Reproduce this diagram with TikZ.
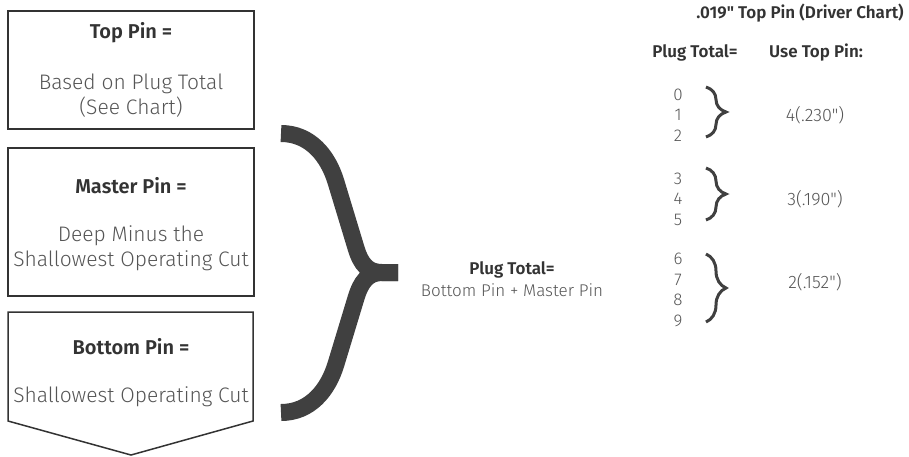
\documentclass[tikz,border=0pt]{standalone}
\usepackage{fontspec}
\setmainfont{Fira Sans}[UprightFont=* Light,BoldFont=* SemiBold,Ligatures=TeXOff]
\usetikzlibrary{calc,positioning,decorations.pathreplacing}
\definecolor{headgray}{HTML}{333333}
\definecolor{bodygray}{HTML}{555555}
\definecolor{bracegray}{HTML}{404040}
\tikzset{
  pinbox/.style={
    draw=headgray,
    line width=1.5pt,
    minimum width=246pt,
    inner sep=0pt
  },
  pinhead/.style={
    font=\fontsize{20}{24}\selectfont\bfseries,
    text=headgray,
    inner sep=0pt
  },
  pinbody/.style={
    font=\fontsize{21}{25}\selectfont,
    text=bodygray,
    align=center,
    inner sep=0pt
  },
  charthead/.style={
    font=\fontsize{17}{20}\selectfont\bfseries,
    text=headgray,
    inner sep=0pt
  },
  chartnum/.style={
    font=\fontsize{17}{20.5}\selectfont,
    text=bodygray,
    align=center,
    inner sep=0pt
  },
  smallbrace/.style={
    decorate,
    decoration={brace,amplitude=20pt,aspect=0.5},
    line width=3pt,
    bracegray
  },
  bigbrace/.style={
    line width=17pt,
    bracegray
  }
}

\begin{document}
\begin{tikzpicture}[x=1pt,y=-1pt]
\useasboundingbox (0,0) rectangle (909,456);
% left boxes
\node[pinbox,minimum height=118pt] (topbox) at (131,70) {};
\node[pinbox,minimum height=148pt] (masterbox) at (131,222) {};
\coordinate (bl) at (8,312);
\coordinate (br) at (253,312);
\coordinate (tip) at (131,455);
\draw[draw=headgray,line width=1.5pt,line join=miter] (bl) -- (br) -- (253,421) -- (tip) -- (8,421) -- cycle;

\node[pinhead] (tophead) at (131,33) {Top Pin =};
\node[pinbody] (topbody) at (131,96) {Based on Plug Total\\(See Chart)};
\node[pinhead] (masterhead) at (131,186) {Master Pin =};
\node[pinbody] (masterbody) at (131,248) {Deep Minus the\\Shallowest Operating Cut};
\node[pinhead] (bottomhead) at (131,347) {Bottom Pin =};
\node[pinbody] (bottombody) at (131,397) {Shallowest Operating Cut};

% big brace
\draw[bigbrace] (281,133.5) .. controls (310,133.5) and (328,155.6) .. (336,182)
  -- (356,248) .. controls (361,264.5) and (368,272.5) .. (382,272.5) -- (398,272.5);
\draw[bigbrace] (281,412.5) .. controls (310,412.5) and (328,390.4) .. (336,364)
  -- (356,298) .. controls (361,281.5) and (368,272.5) .. (382,272.5) -- (398,272.5);

\node[charthead] (plugtotal) at (512,270) {Plug Total=};
\node[chartnum,below=5pt of plugtotal] (plugsum) {Bottom Pin + Master Pin};

% driver chart
\node[charthead] (charttitle) at (800,13) {.019" Top Pin (Driver Chart)};
\node[charthead] (colplug) at (695,53) {Plug Total=};
\node[charthead] (coluse) at (816,53) {Use Top Pin:};

\node[chartnum] (nums1) at (678,115) {0\\1\\2};
\node[chartnum] (nums2) at (678,199) {3\\4\\5};
\node[chartnum] (nums3) at (678,290) {6\\7\\8\\9};
\draw[smallbrace] (706,87) -- (706,137);
\draw[smallbrace] (706,168) -- (706,220);
\draw[smallbrace] (706,254) -- (706,322);
\node[chartnum,font=\fontsize{18}{20}\selectfont] (use1) at (815,115) {4(.230")};
\node[chartnum,font=\fontsize{18}{20}\selectfont] (use2) at (815,199) {3(.190")};
\node[chartnum,font=\fontsize{18}{20}\selectfont] (use3) at (815,282) {2(.152")};
\end{tikzpicture}
\end{document}
